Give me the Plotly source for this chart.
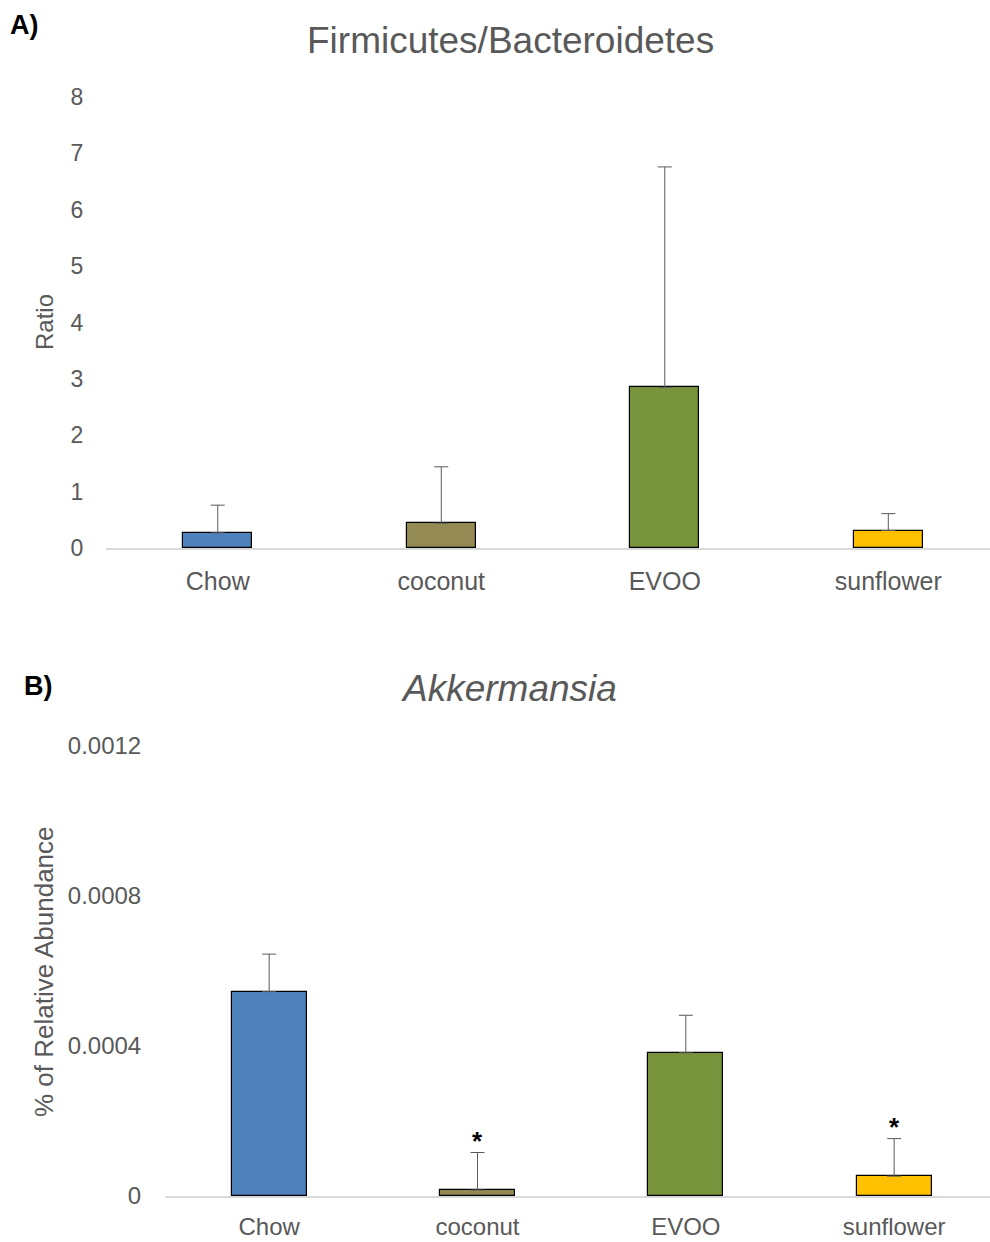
import plotly.graph_objects as go

categories = ["Chow", "coconut", "EVOO", "sunflower"]
colors = ["#4F81BD", "#948A54", "#77933C", "#FFC000"]

# Panel A: Firmicutes/Bacteroidetes ratio
ratio_mean = [0.27, 0.44, 2.85, 0.31]
ratio_err = [0.49, 1.00, 3.91, 0.30]

# Panel B: Akkermansia relative abundance
akk_mean = [0.000545, 0.000016, 0.000382, 0.000053]
akk_err = [0.000100, 0.000100, 0.000100, 0.000100]
akk_sig = ["", "*", "", "*"]

W, H = 990, 1242
FONT = "Liberation Sans, Arial, sans-serif"
GRAY = "#595959"

fig = go.Figure()

fig.add_trace(go.Bar(
    x=categories, y=ratio_mean, width=0.31,
    marker=dict(color=colors, line=dict(color="black", width=1.2)),
    error_y=dict(type="data", array=ratio_err, arrayminus=[0]*4, symmetric=False,
                 color=GRAY, thickness=1, width=7),
    xaxis="x", yaxis="y", showlegend=False))

fig.add_trace(go.Bar(
    x=categories, y=akk_mean, width=0.36,
    marker=dict(color=colors, line=dict(color="black", width=1.2)),
    error_y=dict(type="data", array=akk_err, arrayminus=[0]*4, symmetric=False,
                 color=GRAY, thickness=1, width=7),
    xaxis="x2", yaxis="y2", showlegend=False))

def py(p):
    return 1 - p / H

axis_common = dict(showgrid=False, zeroline=False, fixedrange=True, automargin=False)

fig.update_layout(
    width=W, height=H,
    margin=dict(l=0, r=0, t=0, b=0, pad=0, autoexpand=False),
    paper_bgcolor="white", plot_bgcolor="white",
    font=dict(family=FONT, color=GRAY),
    bargap=0,
    xaxis=dict(domain=[106 / W, 1.0], range=[-0.5, 3.455], anchor="y",
               showline=True, linecolor="#D9D9D9", linewidth=1.5,
               ticks="outside", ticklen=10, tickcolor="rgba(0,0,0,0)",
               tickfont=dict(size=25, color=GRAY), **axis_common),
    yaxis=dict(domain=[py(548), py(97)], range=[0, 8], anchor="x",
               tickvals=[0, 1, 2, 3, 4, 5, 6, 7, 8], showline=False,
               ticks="outside", ticklen=17, tickcolor="rgba(0,0,0,0)",
               tickfont=dict(size=23, color=GRAY), **axis_common),
    xaxis2=dict(domain=[165 / W, 1.0], range=[-0.5, 3.46], anchor="y2",
                showline=True, linecolor="#D9D9D9", linewidth=1.5,
                ticks="outside", ticklen=8, tickcolor="rgba(0,0,0,0)",
                tickfont=dict(size=24, color=GRAY), **axis_common),
    yaxis2=dict(domain=[py(1196), py(746)], range=[0, 0.0012], anchor="x2",
                tickvals=[0, 0.0004, 0.0008, 0.0012],
                ticktext=["0", "0.0004", "0.0008", "0.0012"],
                ticks="outside", ticklen=18, tickcolor="rgba(0,0,0,0)",
                tickfont=dict(size=24, color=GRAY), **axis_common),
)

annotations = [
    dict(text="<b>A)</b>", x=8 / W, y=py(25), xref="paper", yref="paper",
         xanchor="left", yanchor="middle", showarrow=False,
         font=dict(size=27, color="black", family=FONT)),
    dict(text="<b>B)</b>", x=22 / W, y=py(686), xref="paper", yref="paper",
         xanchor="left", yanchor="middle", showarrow=False,
         font=dict(size=27, color="black", family=FONT)),
    dict(text="Firmicutes/Bacteroidetes", x=510 / W, y=py(40), xref="paper", yref="paper",
         xanchor="center", yanchor="middle", showarrow=False,
         font=dict(size=37, color=GRAY, family=FONT)),
    dict(text="<i>Akkermansia</i>", x=509 / W, y=py(688), xref="paper", yref="paper",
         xanchor="center", yanchor="middle", showarrow=False,
         font=dict(size=37, color=GRAY, family=FONT)),
    dict(text="Ratio", x=44 / W, y=py(322), xref="paper", yref="paper",
         xanchor="center", yanchor="middle", textangle=-90, showarrow=False,
         font=dict(size=24, color=GRAY, family=FONT)),
    dict(text="% of Relative Abundance", x=44 / W, y=py(972), xref="paper", yref="paper",
         xanchor="center", yanchor="middle", textangle=-90, showarrow=False,
         font=dict(size=26, color=GRAY, family=FONT)),
]

for cat, m, e, s in zip(categories, akk_mean, akk_err, akk_sig):
    if s:
        annotations.append(dict(
            text="<b>" + s + "</b>", x=cat, y=m + e, xref="x2", yref="y2",
            xanchor="center", yanchor="bottom", yshift=-5, showarrow=False,
            font=dict(size=26, color="black", family=FONT)))

fig.update_layout(annotations=annotations)

fig.write_html("out.html", config={"displayModeBar": False},
               post_script="document.body.style.margin='0';")
